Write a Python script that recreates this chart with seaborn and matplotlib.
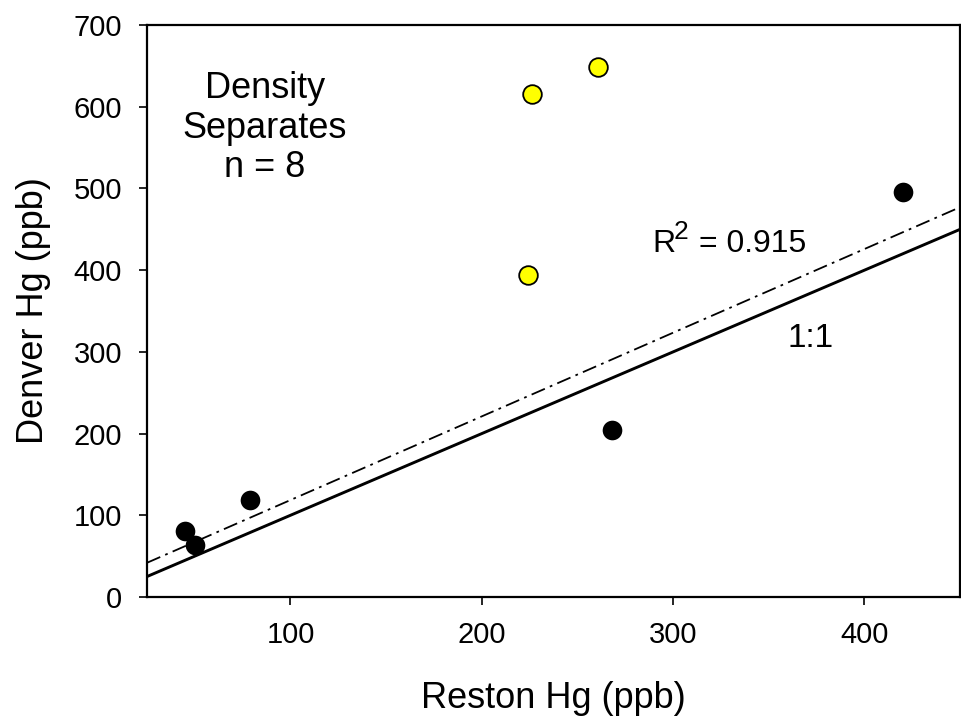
import matplotlib
matplotlib.use("Agg")
import matplotlib.pyplot as plt
import seaborn as sns
import pandas as pd

# data
black_x = [45, 50, 79, 268, 420]
black_y = [81, 64, 119, 204, 496]
yellow_x = [226, 261, 224]
yellow_y = [616, 649, 394]
x_ticks = [100, 200, 300, 400]
y_ticks = [0, 100, 200, 300, 400, 500, 600, 700]

black = pd.DataFrame({"reston": black_x, "denver": black_y})
yellow = pd.DataFrame({"reston": yellow_x, "denver": yellow_y})

sns.set_style("ticks")
plt.rcParams["font.family"] = ["Liberation Sans", "DejaVu Sans"]
plt.rcParams["text.color"] = "black"
plt.rcParams["axes.labelcolor"] = "black"

fig = plt.figure(figsize=(9.62, 7.17), dpi=100)
ax = fig.add_axes([0.1528, 0.1674, 0.8452, 0.7976])
ax.set_xlim(25, 450)
ax.set_ylim(0, 700)

# 1:1 line
ax.axline((0, 0), slope=1, color="black", lw=2.1, zorder=1)

# regression on the black points, stretched over the whole axis
sns.regplot(
    x="reston",
    y="denver",
    data=black,
    scatter=False,
    ci=None,
    truncate=False,
    ax=ax,
    line_kws={"color": "black", "lw": 1.3, "linestyle": (0, (8, 3, 1.5, 3))},
)

sns.scatterplot(
    x="reston", y="denver", data=black, ax=ax,
    color="black", s=200, edgecolor="black", linewidth=0, zorder=3,
)
sns.scatterplot(
    x="reston", y="denver", data=yellow, ax=ax,
    color="#ffff00", s=180, edgecolor="black", linewidth=1.3, zorder=3,
)

ax.set_xlim(25, 450)
ax.set_ylim(0, 700)
ax.set_xticks(x_ticks)
ax.set_yticks(y_ticks)

for sp in ax.spines.values():
    sp.set_visible(True)
    sp.set_linewidth(1.6)
    sp.set_color("black")

ax.tick_params(axis="both", direction="out", length=6, width=1.2,
               labelsize=21, colors="black")
ax.tick_params(axis="x", pad=11)
ax.tick_params(axis="y", pad=12)

ax.set_xlabel("Reston Hg (ppb)", fontsize=26, labelpad=23)
ax.set_ylabel("Denver Hg (ppb)", fontsize=26, labelpad=16)

ax.text(86.5, 574, "Density\nSeparates\nn = 8", fontsize=26,
        ha="center", va="center", linespacing=1.18)

# R^2 label with a near full-size superscript
ax.text(289, 422, "R", fontsize=23, ha="left", va="baseline")
ax.text(300.5, 438, "2", fontsize=19, ha="left", va="baseline")
ax.text(313.5, 422, "= 0.915", fontsize=23, ha="left", va="baseline")
ax.text(360, 306, "1:1", fontsize=24, ha="left", va="baseline")

fig.savefig("out.png", dpi=100)
